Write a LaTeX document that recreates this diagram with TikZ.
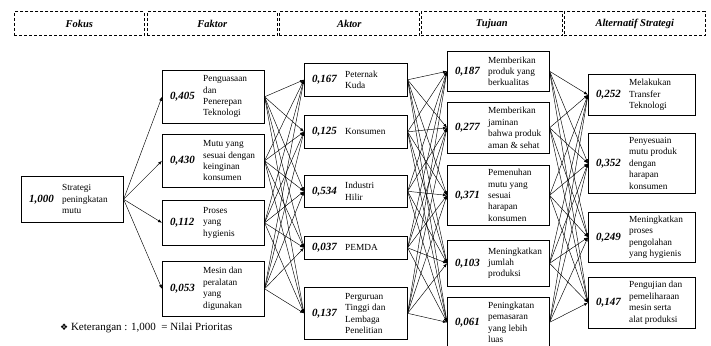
\documentclass[tikz,border=0pt]{standalone}
\usepackage{fontspec}
\setmainfont{Liberation Serif}
\newfontfamily\symfont{DejaVu Sans}
\usetikzlibrary{arrows.meta}
\newcommand\bx[7]{%
  \node[box, minimum width=#4, minimum height=#5] (#1) at (#2,#3) {};
  \node[num, anchor=west] (#1n) at ([xshift=8pt]#1.west) {#6};
  \node[txt, anchor=west] (#1t) at ([xshift=41pt]#1.west) {#7};
}
\begin{document}
\begin{tikzpicture}[x=1pt,y=-1pt,
  box/.style={draw, line width=0.6pt, inner sep=0pt, anchor=north west},
  hdr/.style={draw, densely dashed, line width=0.6pt, inner sep=0pt, anchor=north west,
    font=\fontsize{10.5}{12}\selectfont\bfseries\itshape},
  num/.style={inner sep=0pt, font=\fontsize{11}{12}\selectfont\bfseries\itshape},
  txt/.style={inner sep=0pt, align=left, font=\fontsize{9.3}{11.4}\selectfont},
  arr/.style={line width=0.45pt, -{Latex[length=4pt,width=3pt]}}]
\useasboundingbox (0,0) rectangle (711,345);
% headers
\node[hdr, minimum width=130, minimum height=24] (h1) at (14,11.5) {Fokus};
\node[hdr, minimum width=130, minimum height=24] (h2) at (147,11.5) {Faktor};
\node[hdr, minimum width=140, minimum height=24] (h3) at (279,11.5) {Aktor};
\node[hdr, minimum width=141, minimum height=24] (h4) at (421,11.5) {Tujuan};
\node[hdr, minimum width=141, minimum height=24] (h5) at (564,11.5) {Alternatif Strategi};
% fokus
\bx{g}{21}{176}{102}{46}{1,000}{Strategi\\peningkatan\\mutu}
% faktor
\bx{f1}{162}{70}{102}{53}{0,405}{Penguasaan\\dan\\Penerepan\\Teknologi}
\bx{f2}{162}{134}{102}{53}{0,430}{Mutu yang\\sesuai dengan\\keinginan\\konsumen}
\bx{f3}{162}{200}{102}{45}{0,112}{Proses\\yang\\hygienis}
\bx{f4}{162}{261}{102}{55}{0,053}{Mesin dan\\peralatan\\yang\\digunakan}
% aktor
\bx{a1}{304}{63}{103}{33}{0,167}{Peternak\\Kuda}
\bx{a2}{304}{115}{103}{33}{0,125}{Konsumen}
\bx{a3}{304}{175}{103}{32}{0,534}{Industri\\Hilir}
\bx{a4}{304}{236}{103}{23}{0,037}{PEMDA}
\bx{a5}{304}{287}{103}{52}{0,137}{Perguruan\\Tinggi dan\\Lembaga\\Penelitian}
% tujuan
\bx{t1}{447}{51}{102}{40}{0,187}{Memberikan\\produk yang\\berkualitas}
\bx{t2}{447}{102}{102}{51}{0,277}{Memberikan\\jaminan\\bahwa produk\\aman \& sehat}
\bx{t3}{447}{165}{102}{60}{0,371}{Pemenuhan\\mutu yang\\sesuai\\harapan\\konsumen}
\bx{t4}{447}{240}{102}{46}{0,103}{Meningkatkan\\jumlah\\produksi}
\bx{t5}{447}{297}{102}{50}{0,061}{Peningkatan\\pemasaran\\yang lebih\\luas}
% alternatif
\bx{s1}{588}{74}{107}{41}{0,252}{Melakukan\\Transfer\\Teknologi}
\bx{s2}{588}{133}{107}{60}{0,352}{Penyesuain\\mutu produk\\dengan\\harapan\\konsumen}
\bx{s3}{588}{212}{107}{50}{0,249}{Meningkatkan\\proses\\pengolahan\\yang hygienis}
\bx{s4}{588}{277}{107}{51}{0,147}{Pengujian dan\\pemeliharaan\\mesin serta\\alat produksi}
% connectors
\foreach \j in {f1,f2,f3,f4} \draw[arr] (g.east) -- (\j.west);
\foreach \i in {f1,f2,f3,f4} \foreach \j in {a1,a2,a3,a4,a5} \draw[arr] (\i.east) -- (\j.west);
\foreach \i in {a1,a2,a3,a4,a5} \foreach \j in {t1,t2,t3,t4,t5} \draw[arr] (\i.east) -- (\j.west);
\foreach \i in {t1,t2,t3,t4,t5} \foreach \j in {s1,s2,s3,s4} \draw[arr] (\i.east) -- (\j.west);
% note
\node[anchor=west, inner sep=0pt, font=\fontsize{11}{13}\selectfont] (note) at (60,328)
  {{\symfont\fontsize{9}{10}\selectfont ❖}\ Keterangan : 1,000\ \ = Nilai Prioritas};
\end{tikzpicture}
\end{document}
